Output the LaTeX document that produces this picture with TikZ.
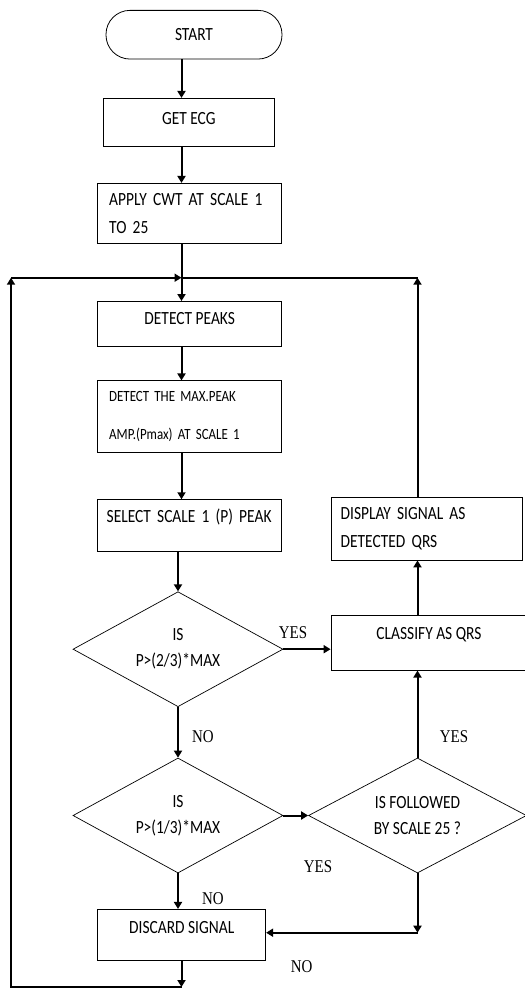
\documentclass[tikz,border=0pt]{standalone}
\usepackage{fontspec}
\setmainfont{Carlito}[FakeStretch=0.83]
\newfontfamily\lblfont{Liberation Serif}[FakeStretch=0.83]
\usetikzlibrary{shapes.geometric,arrows.meta,positioning}

\begin{document}
\begin{tikzpicture}[
  x=1pt, y=-1pt,
  termbox/.style={
    rectangle, draw, line width=0.8pt, rounded corners=24pt,
    minimum width=176pt, minimum height=48.7pt, inner sep=0pt,
    font=\fontsize{18.6}{20}\selectfont
  },
  procbox/.style={
    rectangle, draw, line width=0.8pt, inner sep=0pt,
    minimum width=184pt, font=\fontsize{18.6}{28}\selectfont
  },
  decision/.style={
    diamond, draw, line width=0.7pt, aspect=1.8, inner sep=0pt,
    minimum width=210pt, minimum height=115pt, align=center,
    font=\fontsize{18.6}{26}\selectfont
  },
  ptr/.style={-{Triangle[length=7pt,width=8pt]}, line width=2pt},
  wire/.style={line width=2pt},
  lbl/.style={font=\lblfont\fontsize{18}{18}\selectfont, inner sep=0pt}
]
  \useasboundingbox (0,0) rectangle (525,989);

  % main column
  \node[termbox] (start) at (194,34.7) {START};
  \node[procbox, minimum width=171pt, minimum height=48.3pt, text depth=9pt] (getecg) at (188.8,122.5) {GET ECG};
  \node[procbox, minimum height=60.3pt, text width=161pt, align=left] (apply) at (189.7,213.5)
    {APPLY CWT AT SCALE 1\\TO 25};
  \node[procbox, minimum height=45pt, text depth=10pt, below=57pt of apply] (peaks) {DETECT PEAKS};
  \node[procbox, minimum height=71.7pt, text width=161pt, align=left,
    font=\fontsize{15.6}{37.6}\selectfont, below=33.6pt of peaks] (maxpeak)
    {DETECT THE MAX.PEAK\\AMP.(Pmax) AT SCALE 1};
  \node[procbox, minimum height=52pt, text width=166pt, align=left, text depth=20pt,
    below=46.3pt of maxpeak] (select) {SELECT SCALE 1 (P) PEAK};

  % tests
  \node[decision] (isa) at (178,649.2) {IS\\P>(2/3)*MAX};
  \node[decision] (isb) at (178,815.5) {IS\\P>(1/3)*MAX};
  \node[decision, minimum width=218pt] (isc) at (417.5,815.5) {IS FOLLOWED\\BY SCALE 25 ?};
  \node[procbox, minimum width=168pt, minimum height=51.3pt, text depth=16pt] (discard) at (181.7,935)
    {DISCARD SIGNAL};

  % right column
  \node[procbox, minimum width=196pt, minimum height=54.3pt, text depth=20pt] (classify) at (429,643)
    {CLASSIFY AS QRS};
  \node[procbox, minimum width=191pt, minimum height=63pt, text width=171.6pt, align=left] (display)
    at (426.5,528.5) {DISPLAY SIGNAL AS\\DETECTED QRS};

  % loop corners
  \coordinate (axis) at (181.5,0);
  \coordinate (raxis) at (417.5,0);
  \coordinate (jn) at (181.5,277.7);
  \coordinate (jr) at (417.5,277.7);
  \coordinate (jl) at (11,277.7);
  \coordinate (bl) at (11,987);
  \coordinate (bm) at (181.5,987);
  \coordinate (nc) at (417.5,932.7);

  % flow
  \draw[ptr] (start.south -| axis) -- (getecg.north -| axis);
  \draw[ptr] (getecg.south -| axis) -- (apply.north -| axis);
  \draw[wire] (apply.south -| axis) -- (jn);
  \draw[ptr] (jn) -- (peaks.north -| axis);
  \draw[ptr] (peaks.south -| axis) -- (maxpeak.north -| axis);
  \draw[ptr] (maxpeak.south -| axis) -- (select.north -| axis);
  \draw[ptr] (select.south -| isa.north) -- (isa.north);
  \draw[ptr] (isa.east) -- (isa.east -| classify.west);
  \draw[ptr] (isa.south) -- (isb.north);
  \draw[ptr] (isb.east) -- (isc.west);
  \draw[ptr] (isb.south) -- (isb.south |- discard.north);
  \draw[ptr] (isc.north) -- (isc.north |- classify.south);
  \draw[ptr] (isc.south) -- (nc);
  \draw[ptr] (nc) -- (nc -| discard.east);
  \draw[ptr] (classify.north -| raxis) -- (display.south -| raxis);

  % back to the top
  \draw[ptr] (display.north -| raxis) -- (jr);
  \draw[wire] (jr) -- (jn);
  \draw[ptr] (discard.south -| axis) -- (bm);
  \draw[ptr, line join=miter] (bm) -- (bl) -- (jl);
  \draw[ptr] (jl) -- (jn);

  % answers
  \node[lbl] (yesa) at (293,633) {YES};
  \node[lbl] (noa) at (203,737) {NO};
  \node[lbl] (yesb) at (318,867) {YES};
  \node[lbl] (nob) at (213,899) {NO};
  \node[lbl] (yesc) at (454,737) {YES};
  \node[lbl] (noc) at (301.7,966.7) {NO};
\end{tikzpicture}
\end{document}
